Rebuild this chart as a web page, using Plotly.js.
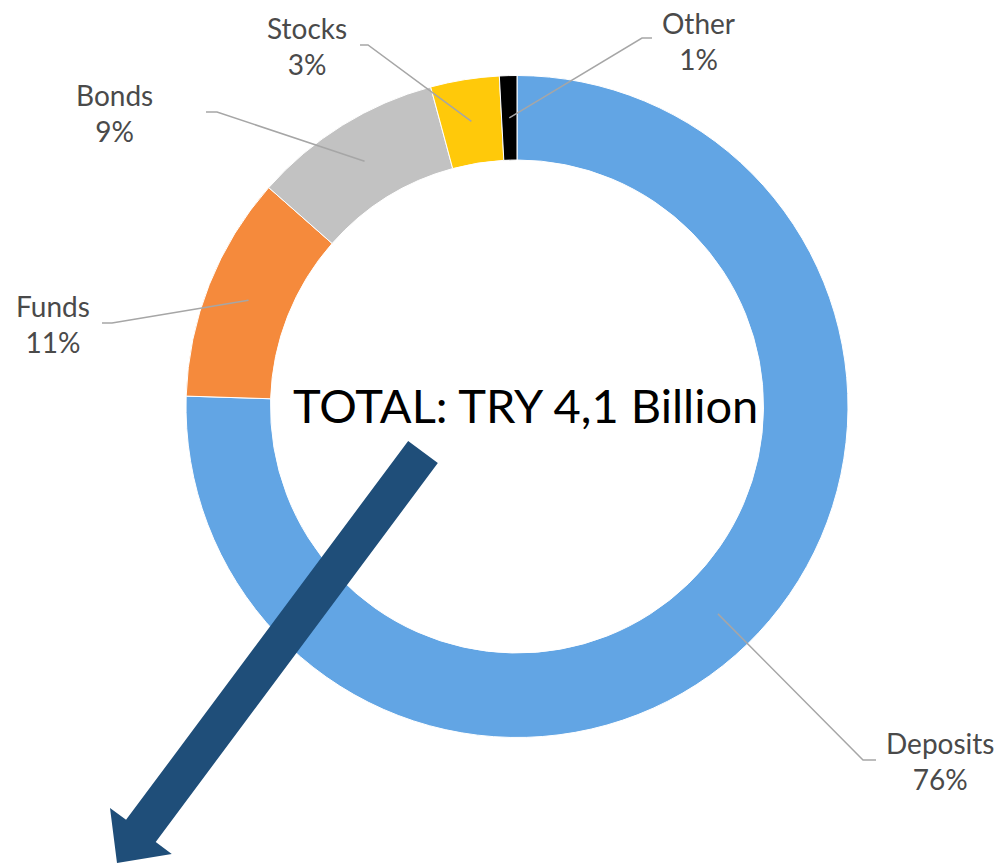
<!DOCTYPE html>
<html>
<head>
<meta charset="utf-8">
<script src="https://cdn.plot.ly/plotly-3.0.1.min.js"></script>
<style>
html,body{margin:0;padding:0;background:#fff;}
#chart{width:999px;height:866px;}
</style>
</head>
<body>
<div id="chart"></div>
<script>
// ---- data ----
var categories = ["Deposits", "Funds", "Bonds", "Stocks", "Other"];
var values = [75.5, 11.0, 9.3, 3.35, 0.85];
var pctLabels = ["76%", "11%", "9%", "3%", "1%"];
var sliceColors = ["#62A5E4", "#F58A3C", "#C2C2C2", "#FFC90A", "#000000"];
var totalText = "TOTAL: TRY 4,1 Billion";

// ---- layout geometry (pixels) ----
var W = 999, H = 866;
var CX = 517, CY = 406.5, R = 331, RIN = 246.5;
function px(x){ return x / W; }
function py(y){ return 1 - y / H; }

// label placement: elbow point, end point, label centre
var labelPos = [
  {elbow:[863,760], end:[876,760], text:[940,761]},
  {elbow:[112,323], end:[102,323], text:[53,324]},
  {elbow:[217,112], end:[206,112], text:[114,113]},
  {elbow:[368,45],  end:[360,45],  text:[307,46]},
  {elbow:[642,38],  end:[652,38],  text:[698,41]}
];

var total = values.reduce(function(a,b){return a+b;},0);
var shapes = [], annotations = [];
var cum = 0;
var rMid = (R + RIN) / 2;
for (var i = 0; i < values.length; i++) {
  var mid = (cum + values[i] / 2) / total * 2 * Math.PI;
  cum += values[i];
  var ax = CX + rMid * Math.sin(mid);
  var ay = CY - rMid * Math.cos(mid);
  var lp = labelPos[i];
  shapes.push({
    type: 'path', xref: 'paper', yref: 'paper',
    path: 'M' + px(ax) + ',' + py(ay) + ' L' + px(lp.elbow[0]) + ',' + py(lp.elbow[1]) +
          ' L' + px(lp.end[0]) + ',' + py(lp.end[1]),
    line: {color: '#A6A6A6', width: 1.5}
  });
  annotations.push({
    xref: 'paper', yref: 'paper', x: px(lp.text[0]), y: py(lp.text[1]),
    xanchor: 'center', yanchor: 'middle', showarrow: false, align: 'center',
    text: categories[i] + '<br>' + pctLabels[i],
    font: {family: 'Lato, "Open Sans", sans-serif', size: 28, color: '#4A4A4A'}
  });
}

// big arrow (decoration)
var A0 = [423, 452], A1 = [117, 863];
var dx = A1[0]-A0[0], dy = A1[1]-A0[1], L = Math.sqrt(dx*dx+dy*dy);
var ux = dx/L, uy = dy/L, nx = -uy, ny = ux;
var sw = 18.5, hw = 38.5, hl = 40;
var bx = A1[0] - hl*ux, by = A1[1] - hl*uy;
var pts = [
  [A0[0]+sw*nx, A0[1]+sw*ny],
  [bx+sw*nx, by+sw*ny],
  [bx+hw*nx, by+hw*ny],
  [A1[0], A1[1]],
  [bx-hw*nx, by-hw*ny],
  [bx-sw*nx, by-sw*ny],
  [A0[0]-sw*nx, A0[1]-sw*ny]
];
var path = pts.map(function(p,k){ return (k===0?'M':'L') + px(p[0]) + ',' + py(p[1]); }).join(' ') + ' Z';
shapes.push({type:'path', xref:'paper', yref:'paper', path: path,
  fillcolor:'#1F4E79', line:{width:0}, layer:'above'});

annotations.push({
  xref:'paper', yref:'paper', x: px(525), y: py(405),
  xanchor:'center', yanchor:'middle', showarrow:false,
  text: totalText,
  font:{family:'Lato, "Open Sans", sans-serif', size:47, color:'#000000'}
});

var trace = {
  type: 'pie',
  labels: categories,
  values: values,
  hole: RIN / R,
  sort: false,
  direction: 'clockwise',
  rotation: 0,
  textinfo: 'none',
  hoverinfo: 'label+percent',
  marker: {colors: sliceColors, line: {color: '#FFFFFF', width: 1}},
  domain: {x: [px(CX - R), px(CX + R)], y: [py(CY + R), py(CY - R)]},
  showlegend: false
};

var layout = {
  width: W, height: H,
  margin: {l:0, r:0, t:0, b:0},
  paper_bgcolor: '#FFFFFF',
  showlegend: false,
  shapes: shapes,
  annotations: annotations
};

Plotly.newPlot('chart', [trace], layout, {displayModeBar:false, staticPlot:true});
</script>
</body>
</html>
